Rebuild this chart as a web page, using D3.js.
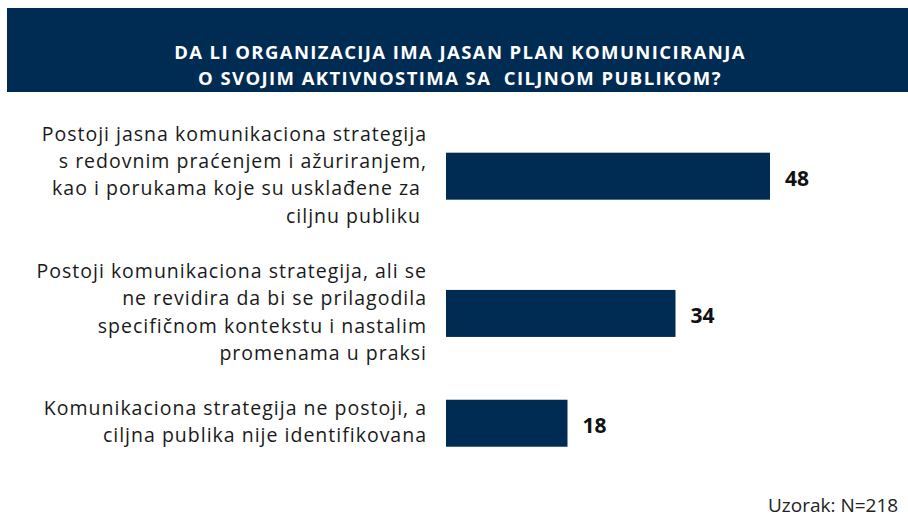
<!DOCTYPE html>
<html>
<head>
<meta charset="utf-8">
<script src="https://cdn.jsdelivr.net/npm/d3@7"></script>
<style>
  html, body { margin: 0; padding: 0; background: #fff; overflow: hidden; }
  #vis { width: 908px; height: 521px; }
  text { font-family: "Open Sans", "Noto Sans", sans-serif; }
</style>
</head>
<body>
<div id="vis"></div>
<script>
// data
var titleLines = [
    "DA LI ORGANIZACIJA IMA JASAN PLAN KOMUNICIRANJA",
    "O SVOJIM AKTIVNOSTIMA SA  CILJNOM PUBLIKOM?"
];
var categories = [
    ["Postoji jasna komunikaciona strategija", "s redovnim praćenjem i ažuriranjem,", "kao i porukama koje su usklađene za ", "ciljnu publiku "],
    ["Postoji komunikaciona strategija, ali se", "ne revidira da bi se prilagodila", "specifičnom kontekstu i nastalim", "promenama u praksi"],
    ["Komunikaciona strategija ne postoji, a", "ciljna publika nije identifikovana"]
];
var values = [48, 34, 18];
var sampleNote = "Uzorak: N=218";

var width = document.getElementById('vis').clientWidth;
var height = document.getElementById('vis').clientHeight;

var navy = "#002c53";

var svg = d3.select('#vis')
    .append('svg')
    .attr('width', width)
    .attr('height', height);

// title band
svg.append('rect')
    .attr('x', 7)
    .attr('y', 8)
    .attr('width', width - 7)
    .attr('height', 84)
    .attr('fill', navy);

svg.selectAll('.title')
    .data(titleLines)
    .enter()
    .append('text')
    .attr('class', 'title')
    .attr('x', 460)
    .attr('y', function(d, i) { return 59 + i * 26; })
    .attr('text-anchor', 'middle')
    .attr('fill', '#fff')
    .style('font-weight', 700)
    .style('font-size', '18.5px')
    .style('letter-spacing', '1.4px')
    .style('white-space', 'pre')
    .text(function(d) { return d; });

// each label block takes its lines plus one empty line
var blockStart = [];
var acc = 0;
categories.forEach(function(lines) {
    blockStart.push(acc);
    acc += lines.length + 1;
});

// line index -> text baseline
var line_scale = d3.scaleLinear()
    .domain([0, 1])
    .range([140.5, 167.95]);

var x_scale = d3.scaleLinear()
    .domain([0, 48])
    .range([0, 324]);

var barLeft = 446;
var barHeight = 47;

function barCenter(i) {
    var n = categories[i].length;
    return line_scale(blockStart[i] + (n - 1) / 2) - 5.5;
}

var labels = svg.selectAll('.label')
    .data(categories)
    .enter()
    .append('text')
    .attr('class', 'label')
    .attr('text-anchor', 'end')
    .attr('fill', '#1a1a1a')
    .style('font-size', '19.5px')
    .style('letter-spacing', '1px')
    .style('white-space', 'pre');

labels.selectAll('tspan')
    .data(function(d, i) {
        return d.map(function(t, j) { return { t: t, k: blockStart[i] + j }; });
    })
    .enter()
    .append('tspan')
    .attr('x', 427)
    .attr('y', function(d) { return line_scale(d.k); })
    .text(function(d) { return d.t; });

svg.selectAll('.bar')
    .data(values)
    .enter()
    .append('rect')
    .attr('class', 'bar')
    .attr('x', barLeft)
    .attr('y', function(d, i) { return barCenter(i) - barHeight / 2; })
    .attr('width', function(d) { return x_scale(d); })
    .attr('height', barHeight)
    .attr('fill', navy);

svg.selectAll('.value')
    .data(values)
    .enter()
    .append('text')
    .attr('class', 'value')
    .attr('x', function(d) { return barLeft + x_scale(d) + 15; })
    .attr('y', function(d, i) { return barCenter(i) + 2; })
    .attr('dy', '0.36em')
    .attr('fill', '#111')
    .style('font-weight', 700)
    .style('font-size', '21px')
    .text(function(d) { return d; });

// sample note, kept just inside the bottom right corner
svg.append('text')
    .attr('x', 768)
    .attr('y', 512)
    .attr('fill', '#222')
    .style('font-size', '19px')
    .text(sampleNote);
</script>
</body>
</html>
